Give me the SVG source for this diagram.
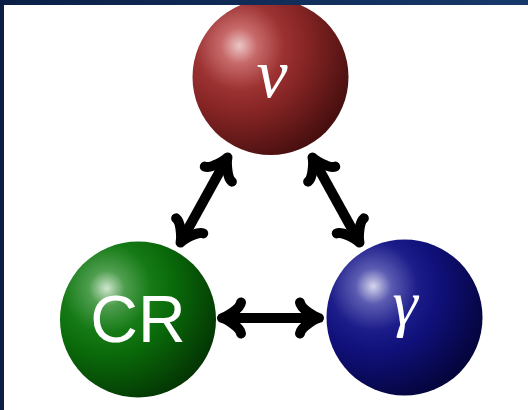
<svg xmlns="http://www.w3.org/2000/svg" width="528" height="410" viewBox="0 0 528 410">
  <defs>
    <radialGradient id="ballRed" cx="0.3" cy="0.3" r="0.95">
      <stop offset="0" stop-color="#ecc6c6"/>
      <stop offset="0.12" stop-color="#c86a6a"/>
      <stop offset="0.3" stop-color="#9c3232"/>
      <stop offset="0.45" stop-color="#872525"/>
      <stop offset="0.78" stop-color="#4c1010"/>
      <stop offset="1" stop-color="#2e0707"/>
    </radialGradient>
    <radialGradient id="ballGreen" cx="0.3" cy="0.3" r="0.95">
      <stop offset="0" stop-color="#cfe6cf"/>
      <stop offset="0.12" stop-color="#4f9e4f"/>
      <stop offset="0.3" stop-color="#157a15"/>
      <stop offset="0.45" stop-color="#0a6a0a"/>
      <stop offset="0.78" stop-color="#043a04"/>
      <stop offset="1" stop-color="#012001"/>
    </radialGradient>
    <radialGradient id="ballBlue" cx="0.3" cy="0.3" r="0.95">
      <stop offset="0" stop-color="#d6d6ee"/>
      <stop offset="0.12" stop-color="#5c5cb2"/>
      <stop offset="0.3" stop-color="#1c1c8a"/>
      <stop offset="0.45" stop-color="#10107a"/>
      <stop offset="0.78" stop-color="#050540"/>
      <stop offset="1" stop-color="#020226"/>
    </radialGradient>
    <linearGradient id="barGrad" x1="0" y1="0" x2="1" y2="0">
      <stop offset="0" stop-color="#0b1f46"/>
      <stop offset="1" stop-color="#17396a"/>
    </linearGradient>
    <marker id="tip" markerUnits="userSpaceOnUse" orient="auto-start-reverse" refX="0" refY="0" markerWidth="40" markerHeight="40" overflow="visible">
      <path d="M -19,-15.5 C -18,-9 -4,-1 0,0 C -4,1 -18,9 -19,15.5" fill="none" stroke="#000" stroke-width="10" stroke-linecap="round" stroke-linejoin="round"/>
    </marker>
    <style>
      .conn { stroke: #000; stroke-width: 10; fill: none; marker-start: url(#tip); marker-end: url(#tip); }
      .greek { font-family: "Liberation Serif", "DejaVu Serif", serif; font-style: italic; fill: #fff; text-anchor: middle; }
      .sans { font-family: "Liberation Sans", Arial, sans-serif; fill: #fff; text-anchor: middle; }
    </style>
  </defs>
  <rect x="0" y="0" width="528" height="410" fill="#fff"/>

  <g id="node-nu">
    <circle cx="270.5" cy="77" r="78" fill="url(#ballRed)"/>
    <text class="greek" x="272" y="97" font-size="70">ν</text>
  </g>
  <g id="node-cr">
    <circle cx="138" cy="319.5" r="78" fill="url(#ballGreen)"/>
    <text class="sans" x="138" y="342" font-size="66">CR</text>
  </g>
  <g id="node-gamma">
    <circle cx="404.5" cy="317.5" r="78" fill="url(#ballBlue)"/>
    <text class="greek" x="405" y="324" font-size="64">γ</text>
  </g>

  <g id="connectors">
    <path class="conn" d="M 180.5,242.5 L 227.5,157.5"/>
    <path class="conn" d="M 312.5,157.5 L 359.5,242.5"/>
    <path class="conn" d="M 222,318 L 319,318"/>
  </g>

  <g id="frame">
    <rect x="0" y="0" width="528" height="5" fill="url(#barGrad)"/>
    <rect x="0" y="0" width="4" height="410" fill="#0b1f46"/>
  </g>
</svg>
